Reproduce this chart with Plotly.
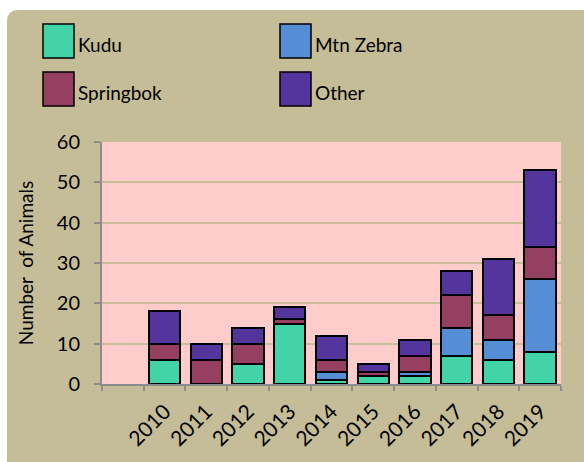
import plotly.graph_objects as go

years = ["2010", "2011", "2012", "2013", "2014", "2015", "2016", "2017", "2018", "2019"]
categories = [" "] + years  # leading empty slot as in the original chart
kudu = [6, 0, 5, 15, 1, 2, 2, 7, 6, 8]
mtn_zebra = [0, 0, 0, 0, 2, 0, 1, 7, 5, 18]
springbok = [4, 6, 5, 1, 3, 1, 4, 8, 6, 8]
other = [8, 4, 4, 3, 6, 2, 4, 6, 14, 19]

series = [
    ("Kudu", kudu, "#42D4A6"),
    ("Mtn Zebra", mtn_zebra, "#558ED5"),
    ("Springbok", springbok, "#953F61"),
    ("Other", other, "#54359E"),
]
y_ticks = [0, 10, 20, 30, 40, 50, 60]

W, H = 584, 462
L, R, T, B = 102, 23, 142, 78
PW, PH = W - L - R, H - T - B
FONT = "Lato"
TAN = "#C4BD97"
PINK = "#FFCCCC"


def px(x):
    return (x - L) / PW


def py(y):
    return (H - B - y) / PH


fig = go.Figure()
for name, vals, col in series:
    fig.add_trace(go.Bar(
        x=categories, y=[None] + vals, name=name,
        marker=dict(color=col, line=dict(color="black", width=2)),
    ))

shapes = []
# rounded tan background
x0, y0, x1, y1, r = 7, 10, 600, 480, 12
path = (f"M {px(x0 + r)},{py(y0)} L {px(x1)},{py(y0)} L {px(x1)},{py(y1)} "
        f"L {px(x0 + r)},{py(y1)} Q {px(x0)},{py(y1)} {px(x0)},{py(y1 - r)} "
        f"L {px(x0)},{py(y0 + r)} Q {px(x0)},{py(y0)} {px(x0 + r)},{py(y0)} Z")
shapes.append(dict(type="path", xref="paper", yref="paper", path=path,
                   fillcolor=TAN, line=dict(width=0), layer="below"))
shapes.append(dict(type="rect", xref="paper", yref="paper", x0=0, x1=1, y0=0, y1=1,
                   fillcolor=PINK, line=dict(width=0), layer="below"))

annotations = []
legend_pos = [(43, 24), (280, 24), (43, 72), (280, 72)]
for (lx, ly), (name, _, col) in zip(legend_pos, series):
    shapes.append(dict(type="rect", xref="paper", yref="paper",
                       x0=px(lx), x1=px(lx + 31), y0=py(ly + 34), y1=py(ly),
                       fillcolor=col, line=dict(color="black", width=1.5)))
    annotations.append(dict(xref="paper", yref="paper", x=px(lx + 33), y=py(ly + 20),
                            text=name, showarrow=False, xanchor="left", yanchor="middle",
                            font=dict(family=FONT, size=19, color="black")))

fig.update_layout(
    width=W, height=H,
    margin=dict(l=L, r=R, t=T, b=B, autoexpand=False),
    paper_bgcolor="white",
    plot_bgcolor=PINK,
    barmode="stack",
    bargap=0.25,
    showlegend=False,
    font=dict(family=FONT, size=19, color="black"),
    shapes=shapes,
    annotations=annotations,
    xaxis=dict(
        type="category", categoryorder="array", categoryarray=categories,
        tickson="boundaries", ticks="outside", ticklen=5, tickwidth=2, tickcolor="#8C8C8C",
        showline=True, linecolor="#8C8C8C", linewidth=2,
        showgrid=False, tickangle=-45,
        tickfont=dict(family=FONT, size=21, color="black"),
        ticklabelstandoff=5,
        automargin=False,
    ),
    yaxis=dict(
        range=[0, 60], tickvals=y_ticks, ticks="outside", ticklen=6, tickwidth=2,
        tickcolor="#8C8C8C", showline=True, linecolor="#8C8C8C", linewidth=2,
        showgrid=True, gridcolor="#C8BE98", gridwidth=2, zeroline=False,
        tickfont=dict(family=FONT, size=20, color="black"),
        ticklabelstandoff=10,
        title=dict(text="Number  of Animals", font=dict(family=FONT, size=19, color="black"),
                   standoff=18),
        automargin=False,
    ),
)

fig.write_html("out.html", config={"displayModeBar": False},
               post_script="document.body.style.margin='0';")
